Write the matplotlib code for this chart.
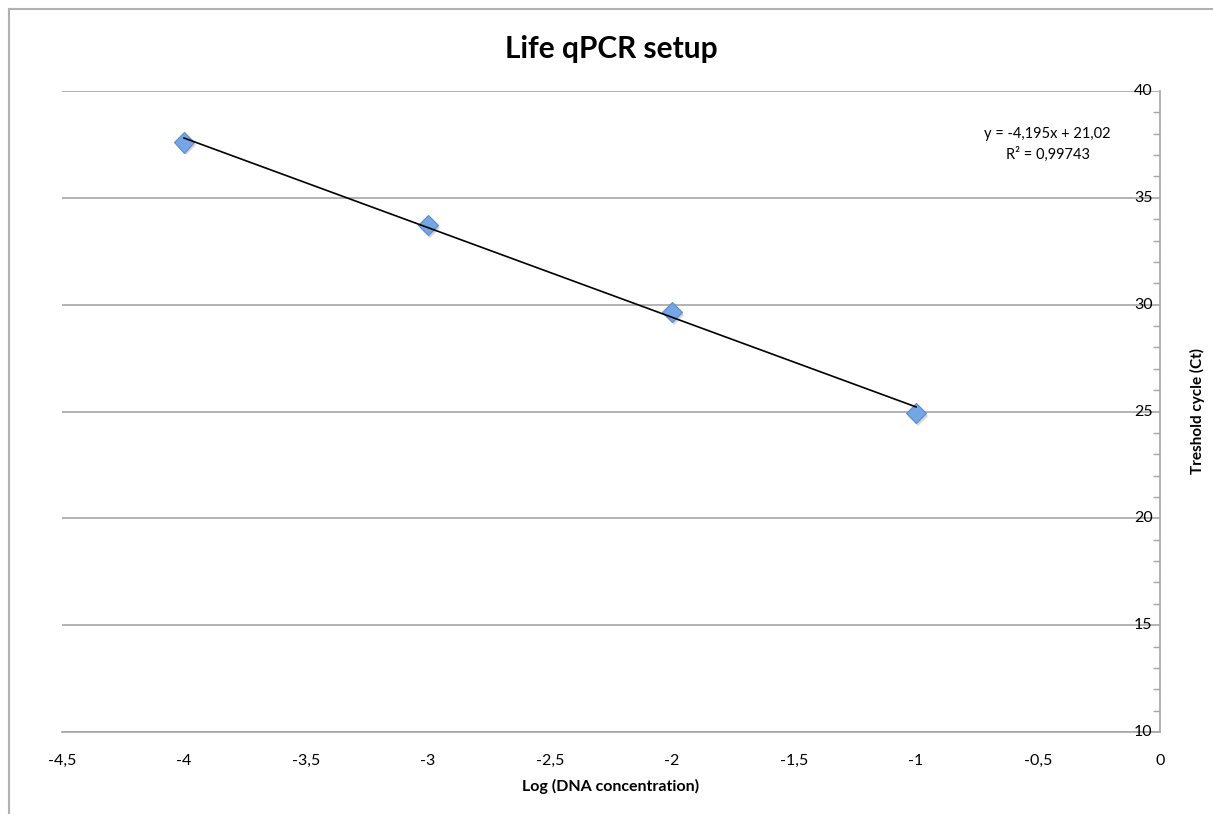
import numpy as np
import matplotlib.pyplot as plt
import matplotlib.patheffects as pe
from matplotlib.lines import Line2D
from matplotlib.ticker import MultipleLocator, FuncFormatter

plt.rcParams['font.family'] = ['Lato', 'DejaVu Sans']

log_conc = [-4, -3, -2, -1]
ct = [37.6, 33.73, 29.66, 24.93]
slope, intercept = -4.195, 21.02
eq_text = "y = -4,195x + 21,02\nR² = 0,99743"

fig = plt.figure(figsize=(12.13, 8.14), dpi=100)
ax = fig.add_axes([62/1213, 1-732/814, (1160-62)/1213, (732-91)/814])

# chart frame (left and top edges visible)
fig.add_artist(Line2D([9/1213, 9/1213], [0, 1-9/814], color='#b0b0b0', lw=1.5))
fig.add_artist(Line2D([9/1213, 1], [1-9/814, 1-9/814], color='#b0b0b0', lw=1.5))

ax.set_xlim(-4.5, 0)
ax.set_ylim(10, 40)
ax.yaxis.set_major_locator(MultipleLocator(5))
ax.yaxis.set_minor_locator(MultipleLocator(1))
ax.xaxis.set_major_locator(MultipleLocator(0.5))
ax.grid(axis='y', color='#a6a6a6', lw=1.2)
ax.set_axisbelow(True)

for s in ['top', 'left']:
    ax.spines[s].set_visible(False)
ax.spines['right'].set_color('#a6a6a6')
ax.spines['bottom'].set_color('#a6a6a6')
ax.spines['right'].set_linewidth(1.2)
ax.spines['bottom'].set_linewidth(1.2)

ax.yaxis.tick_right()
ax.yaxis.set_label_position('right')
ax.tick_params(axis='y', which='major', length=0, labelright=False, labelleft=False)
ax.tick_params(axis='y', which='minor', direction='in', length=5, color='#a6a6a6', width=1)
ax.tick_params(axis='x', length=0, pad=16, labelsize=11.5)

comma = FuncFormatter(lambda v, p: ('%g' % v).replace('.', ','))
ax.xaxis.set_major_formatter(comma)

# y tick labels sit just inside the axis line
for v in range(10, 41, 5):
    ax.text(-0.03, v, str(v), ha='right', va='center', fontsize=11.5)

xs = np.array([log_conc[0], log_conc[-1]])
ax.plot(log_conc, ct, 'D', ms=10.5, mfc='#74a5e4', mec='#5a8ccd', mew=0.8, zorder=3,
        path_effects=[pe.SimplePatchShadow(offset=(1.5, -2), shadow_rgbFace='#888888', alpha=0.35), pe.Normal()])
ax.plot(xs, slope*xs + intercept, color='black', lw=1.2, zorder=4)

ax.text(-0.46, 37.5, eq_text, ha='center', va='center', fontsize=10.5, linespacing=1.4)

ax.set_title('Life qPCR setup', fontsize=21.5, fontweight='bold', pad=24)
ax.set_xlabel('Log (DNA concentration)', fontsize=11.5, fontweight='bold', labelpad=8)
ax.set_ylabel('Treshold cycle (Ct)', fontsize=11, fontweight='bold', labelpad=18)

fig.savefig('out.png', dpi=100)
